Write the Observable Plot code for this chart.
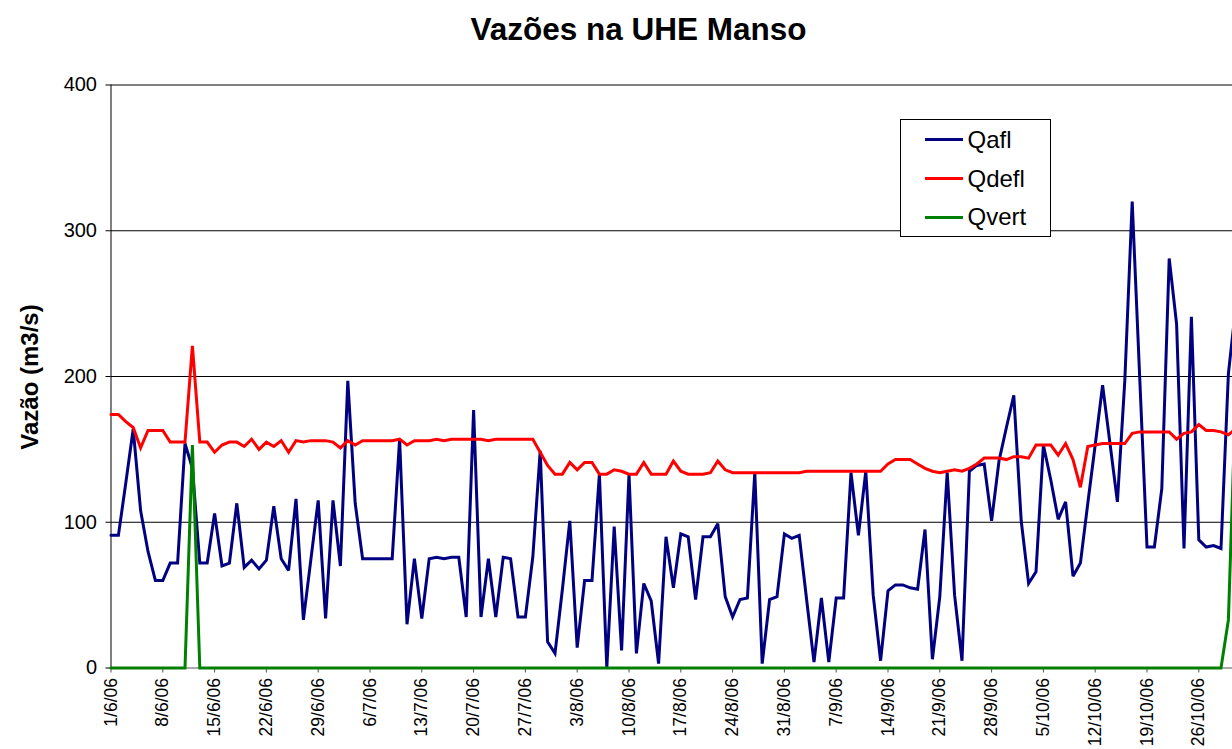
<!DOCTYPE html>
<html><head><meta charset="utf-8">
<script src="https://cdn.jsdelivr.net/npm/d3@7"></script>
<script src="https://cdn.jsdelivr.net/npm/@observablehq/plot@0.6"></script>
<style>
body{margin:0;background:#fff;font-family:"Liberation Sans",Arial,sans-serif;}
#wrap{position:relative;width:1232px;height:749px;overflow:hidden;background:#fff;}
#title{position:absolute;left:638.5px;top:13px;transform:translateX(-50%);font-weight:bold;font-size:31.5px;line-height:32px;white-space:nowrap;color:#000;}
#ylabel{position:absolute;left:30px;top:377px;transform:translate(-50%,-50%) rotate(-90deg);font-weight:bold;font-size:24px;white-space:nowrap;color:#000;}
#legend{position:absolute;left:899.5px;top:118.5px;width:151px;height:118px;border:1px solid #000;background:#fff;box-sizing:border-box;}
.item{position:absolute;left:24px;height:30px;display:flex;align-items:center;font-size:24px;color:#000;}
.sw{width:38px;height:3px;margin-right:5px;}
</style>
</head><body>
<div id="wrap">
  <div id="chart"></div>
  <div id="title">Vazões na UHE Manso</div>
  <div id="ylabel">Vazão (m3/s)</div>
  <div id="legend"></div>
</div>
<script>
const seriesNames = ["Qafl", "Qdefl", "Qvert"];
const seriesColors = ["#000080", "#ff0000", "#008000"];

const qafl = [
  91, 91, 127, 164, 108, 80, 60, 60, 72, 72,
  154, 137, 72, 72, 106, 70, 72, 113, 69, 74,
  68, 74, 111, 75, 67, 116, 33, 74, 115, 34,
  115, 70, 197, 113, 75, 75, 75, 75, 75, 157,
  30, 75, 34, 75, 76, 75, 76, 76, 35, 177,
  35, 75, 35, 76, 75, 35, 35, 76, 149, 18,
  10, 54, 101, 14, 60, 60, 133, 0, 97, 12,
  133, 10, 58, 46, 3, 90, 55, 92, 90, 47,
  90, 90, 99, 49, 35, 47, 48, 134, 3, 47,
  49, 92, 89, 91, 47, 4, 48, 4, 48, 48,
  134, 91, 135, 50, 5, 53, 57, 57, 55, 54,
  95, 6, 49, 134, 50, 5, 135, 139, 140, 101,
  142, 165, 187, 101, 58, 66, 153, 129, 102, 114,
  63, 72, 113, 153, 194, 154, 114, 197, 320, 201,
  83, 83, 123, 281, 236, 82, 241, 88, 83, 84,
  82, 202, 248
];
const qdefl = [
  174, 174, 169, 165, 151, 163, 163, 163, 155, 155,
  155, 221, 155, 155, 148, 153, 155, 155, 152, 157,
  150, 155, 152, 156, 148, 156, 155, 156, 156, 156,
  155, 151, 156, 153, 156, 156, 156, 156, 156, 157,
  153, 156, 156, 156, 157, 156, 157, 157, 157, 157,
  157, 156, 157, 157, 157, 157, 157, 157, 148, 139,
  133, 133, 141, 136, 141, 141, 133, 133, 136, 135,
  133, 133, 141, 133, 133, 133, 142, 135, 133, 133,
  133, 134, 142, 136, 134, 134, 134, 134, 134, 134,
  134, 134, 134, 134, 135, 135, 135, 135, 135, 135,
  135, 135, 135, 135, 135, 140, 143, 143, 143, 140,
  137, 135, 134, 135, 136, 135, 137, 140, 144, 144,
  144, 143, 145, 145, 144, 153, 153, 153, 146, 154,
  143, 124, 152, 153, 154, 154, 154, 154, 161, 162,
  162, 162, 162, 162, 157, 161, 162, 167, 163, 163,
  162, 160, 164
];
const qvert = [
  0, 0, 0, 0, 0, 0, 0, 0, 0, 0,
  0, 153, 0, 0, 0, 0, 0, 0, 0, 0,
  0, 0, 0, 0, 0, 0, 0, 0, 0, 0,
  0, 0, 0, 0, 0, 0, 0, 0, 0, 0,
  0, 0, 0, 0, 0, 0, 0, 0, 0, 0,
  0, 0, 0, 0, 0, 0, 0, 0, 0, 0,
  0, 0, 0, 0, 0, 0, 0, 0, 0, 0,
  0, 0, 0, 0, 0, 0, 0, 0, 0, 0,
  0, 0, 0, 0, 0, 0, 0, 0, 0, 0,
  0, 0, 0, 0, 0, 0, 0, 0, 0, 0,
  0, 0, 0, 0, 0, 0, 0, 0, 0, 0,
  0, 0, 0, 0, 0, 0, 0, 0, 0, 0,
  0, 0, 0, 0, 0, 0, 0, 0, 0, 0,
  0, 0, 0, 0, 0, 0, 0, 0, 0, 0,
  0, 0, 0, 0, 0, 0, 0, 0, 0, 0,
  0, 33, 190
];
const startDate = "1/6/06";
const xTickLabels = ["1/6/06","8/6/06","15/6/06","22/6/06","29/6/06","6/7/06","13/7/06","20/7/06","27/7/06","3/8/06","10/8/06","17/8/06","24/8/06","31/8/06","7/9/06","14/9/06","21/9/06","28/9/06","5/10/06","12/10/06","19/10/06","26/10/06"];
const yTicks = [0, 100, 200, 300, 400];

function parseD(s) { const [d, m, y] = s.split("/").map(Number); return new Date(Date.UTC(2000 + y, m - 1, d)); }
const t0 = parseD(startDate);
const DAY = 864e5;
const dates = qafl.map((_, i) => new Date(+t0 + i * DAY));
const visibleDays = (1232 - 110.5) / 7.4;
const tEnd = new Date(+t0 + visibleDays * DAY);

const series = [qafl, qdefl, qvert];
const data = [];
series.forEach((vals, s) => vals.forEach((v, i) => data.push({date: dates[i], value: v, series: seriesNames[s]})));

const tickDates = xTickLabels.map(parseD);
const labelMap = new Map(xTickLabels.map(l => [+parseD(l), l]));

const chart = Plot.plot({
  width: 1232, height: 749,
  marginLeft: 110.5, marginRight: 0, marginTop: 84.5, marginBottom: 81.5,
  style: {fontFamily: "'Liberation Sans', Arial, sans-serif", background: "white", color: "#000"},
  x: {type: "utc", domain: [t0, tEnd]},
  y: {domain: [0, 400]},
  color: {domain: seriesNames, range: seriesColors},
  marks: [
    Plot.ruleY(yTicks.filter(v => v > 0), {stroke: "#000", strokeWidth: 1}),
    Plot.axisY({ticks: yTicks, tickSize: 5, tickPadding: 9, fontSize: 20, label: null}),
    Plot.axisX({ticks: tickDates, tickFormat: d => labelMap.get(+d), tickRotate: -90, tickSize: 5, tickPadding: 5, fontSize: 17.5, label: null, stroke: "#555"}),
    Plot.ruleX([t0], {stroke: "#000", strokeWidth: 1}),
    Plot.ruleY([0], {stroke: "#555", strokeWidth: 1}),
    Plot.line(data, {x: "date", y: "value", z: "series", stroke: "series", strokeWidth: 3, strokeLinejoin: "miter", strokeMiterlimit: 3})
  ]
});
document.getElementById("chart").appendChild(chart);

const legend = document.getElementById("legend");
const itemTops = [20, 59, 97.5];
seriesNames.forEach((name, i) => {
  const el = document.createElement("div");
  el.className = "item";
  el.style.top = (itemTops[i] - 15) + "px";
  el.innerHTML = `<span class="sw" style="background:${seriesColors[i]}"></span><span>${name}</span>`;
  legend.appendChild(el);
});
</script>
</body></html>
